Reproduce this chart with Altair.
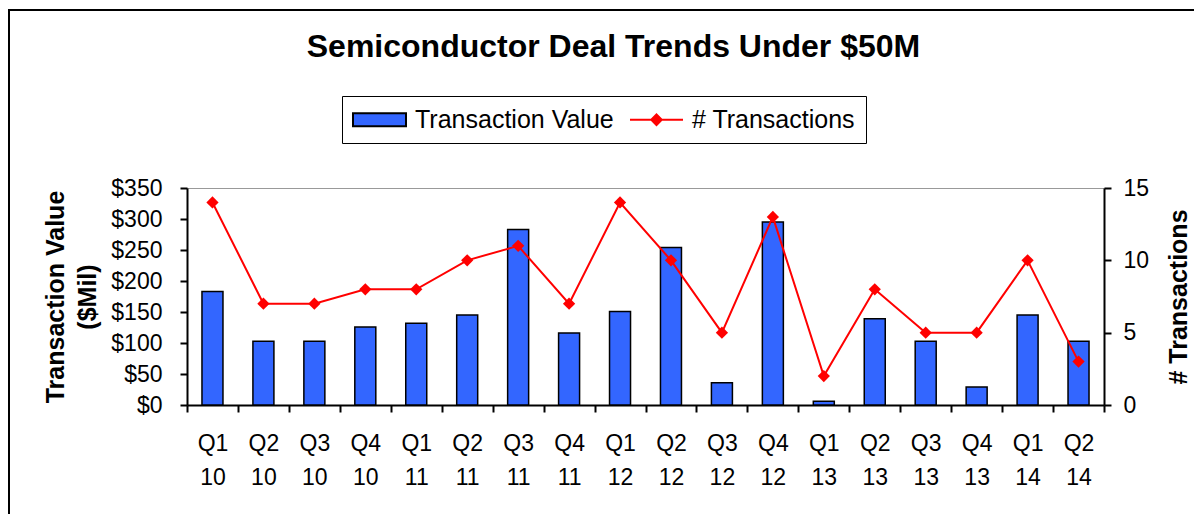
import altair as alt
import pandas as pd

# ---- data ----
quarters = ["Q1 10", "Q2 10", "Q3 10", "Q4 10", "Q1 11", "Q2 11", "Q3 11", "Q4 11",
            "Q1 12", "Q2 12", "Q3 12", "Q4 12", "Q1 13", "Q2 13", "Q3 13", "Q4 13",
            "Q1 14", "Q2 14"]
transaction_value = [183, 103, 103, 126, 132, 145, 283, 116, 151, 254, 36, 295, 6, 139, 103, 29, 145, 103]
num_transactions = [14, 7, 7, 8, 8, 10, 11, 7, 14, 10, 5, 13, 2, 8, 5, 5, 10, 3]
series_names = ["Transaction Value", "# Transactions"]
value_ticks = [0, 50, 100, 150, 200, 250, 300, 350]
count_ticks = [0, 5, 10, 15]

FONT = "Liberation Sans"
BLUE = "#3366FF"
RED = "#FF0000"

df = pd.DataFrame({"quarter": quarters, "value": transaction_value, "count": num_transactions})
legend_df = pd.DataFrame({"series": series_names})

x_enc = alt.X(
    "quarter:N", sort=quarters,
    scale=alt.Scale(paddingInner=0, paddingOuter=0),
    axis=alt.Axis(title=None, labelAngle=0, labelExpr="split(datum.label, ' ')",
                  tickBand="extent", labelFont=FONT, labelFontSize=23, labelColor="black",
                  labelBaseline="alphabetic", labelPadding=38, labelLineHeight=34,
                  tickSize=7, tickColor="black", tickWidth=2,
                  domainColor="black", domainWidth=2, grid=False),
)

bars = alt.Chart(df).mark_bar(size=21, color=BLUE, stroke="black", strokeWidth=1.5).encode(
    x=x_enc,
    y=alt.Y("value:Q", scale=alt.Scale(domain=[0, 350]),
            axis=alt.Axis(orient="left", values=value_ticks, format="$.0f", grid=False,
                          title=["Transaction Value", "($Mil)"], titleAngle=270,
                          titleX=-132, titleY=108.5, titleAlign="center", titleBaseline="middle",
                          titleFont=FONT, titleFontSize=25, titleFontWeight="bold",
                          titleLineHeight=32, titleColor="black",
                          labelFont=FONT, labelFontSize=23, labelColor="black", labelPadding=18,
                          tickSize=7, tickColor="black", tickWidth=2,
                          domainColor="black", domainWidth=2)),
)

line = alt.Chart(df).mark_line(
    color=RED, strokeWidth=2,
    point=alt.OverlayMarkDef(shape="diamond", size=150, filled=True, color=RED),
).encode(
    x=x_enc,
    y=alt.Y("count:Q", scale=alt.Scale(domain=[0, 15]),
            axis=alt.Axis(orient="right", values=count_ticks, grid=False,
                          title="# Transactions", titleAngle=270,
                          titleX=74, titleY=108.5, titleAlign="center", titleBaseline="middle",
                          titleFont=FONT, titleFontSize=25, titleFontWeight="bold", titleColor="black",
                          labelFont=FONT, labelFontSize=23, labelColor="black", labelPadding=12,
                          tickSize=7, tickColor="black", tickWidth=2,
                          domainColor="black", domainWidth=2)),
)

RECT_PATH = "M-2.12,-0.52L2.12,-0.52L2.12,0.52L-2.12,0.52Z"
LINE_PATH = "M-2.12,0L2.12,0M0,-0.42L0.42,0L0,0.42L-0.42,0Z"

leg = alt.Legend(title=None, orient="none", legendX=155, legendY=-92, direction="horizontal",
                 strokeColor="black", fillColor="white", padding=10,
                 labelFont=FONT, labelFontSize=25, labelColor="black", labelLimit=400,
                 labelOffset=22, symbolOffset=14, columnPadding=12, symbolSize=625,
                 symbolStrokeWidth=2, symbolOpacity=1)

legend_layer = alt.Chart(legend_df).mark_point(filled=True, opacity=0).encode(
    color=alt.Color("series:N", scale=alt.Scale(domain=series_names, range=[BLUE, RED]), legend=leg),
    shape=alt.Shape("series:N", scale=alt.Scale(domain=series_names, range=[RECT_PATH, LINE_PATH]), legend=leg),
    stroke=alt.Stroke("series:N", scale=alt.Scale(domain=series_names, range=["black", RED]), legend=leg),
)

# outer chart frame (left and top edges; right and bottom fall outside the picture)
frame_left = alt.Chart(alt.Data(values=[{}])).mark_rule(color="black", strokeWidth=2).encode(
    x=alt.value(-178), y=alt.value(-178), y2=alt.value(600)
)
frame_top = alt.Chart(alt.Data(values=[{}])).mark_rule(color="black", strokeWidth=2).encode(
    y=alt.value(-178), x=alt.value(-179), x2=alt.value(1200)
)

chart = alt.layer(bars, line, legend_layer, frame_left, frame_top).resolve_scale(
    y="independent"
).properties(
    width=917, height=217,
    title=alt.Title("Semiconductor Deal Trends Under $50M", font=FONT, fontSize=32,
                    fontWeight="bold", color="black", anchor="middle", dx=-32,
                    baseline="alphabetic", offset=0, dy=80),
    autosize=alt.AutoSizeParams(type="none"),
    padding={"left": 179, "top": 180, "right": 90, "bottom": 120},
).configure_view(stroke="#999999", strokeWidth=1)

chart.save("out.html", embed_options={"renderer": "svg", "actions": False})
